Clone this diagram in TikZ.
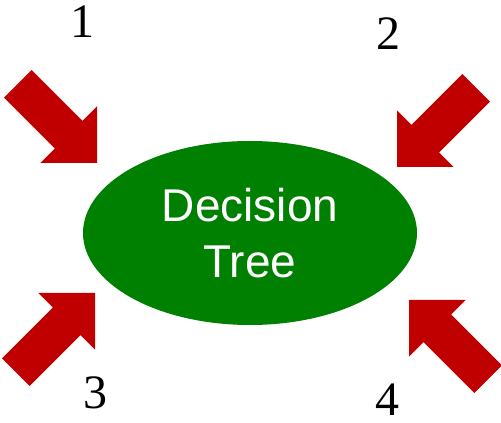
\documentclass[tikz,border=0pt]{standalone}
\usepackage{fontspec}
\setmainfont{Liberation Serif}
\newfontfamily\arialfont{Liberation Sans}
\usepackage{xcolor}
\usepackage{tikz}
\usetikzlibrary{shapes.geometric}

\definecolor{treegreen}{RGB}{0,128,0}
\definecolor{arrowred}{RGB}{192,0,0}

\begin{document}
\begin{tikzpicture}[
  x=1pt, y=1pt,
  tree/.style={ellipse, fill=treegreen, minimum width=334pt, minimum height=184pt, inner sep=0pt, align=center, text=white, font=\arialfont\fontsize{46}{56}\selectfont},
  num/.style={anchor=base, inner sep=0pt, font=\fontsize{48}{48}\selectfont},
  blockarrow/.pic={
    \fill[arrowred] (0,0) -- (-40,40) -- (-40,19.5) -- (-112,19.5) -- (-112,-19.5) -- (-40,-19.5) -- (-40,-40) -- cycle;
  }
]
\useasboundingbox (0,0) rectangle (501,423);

\node[tree] (dt) at (250,190) {Decision\\Tree};

% arrow tips
\coordinate (tip1) at (97,260);
\coordinate (tip2) at (397,256);
\coordinate (tip3) at (95,130);
\coordinate (tip4) at (409,123);

\pic[rotate=-45] at (tip1) {blockarrow};
\pic[rotate=-135] at (tip2) {blockarrow};
\pic[rotate=45] at (tip3) {blockarrow};
\pic[rotate=135] at (tip4) {blockarrow};

\node[num] (n1) at (82.5,385) {1};
\node[num] (n2) at (388.5,373) {2};
\node[num] (n3) at (95,14) {3};
\node[num] (n4) at (387.5,7) {4};
\end{tikzpicture}
\end{document}
